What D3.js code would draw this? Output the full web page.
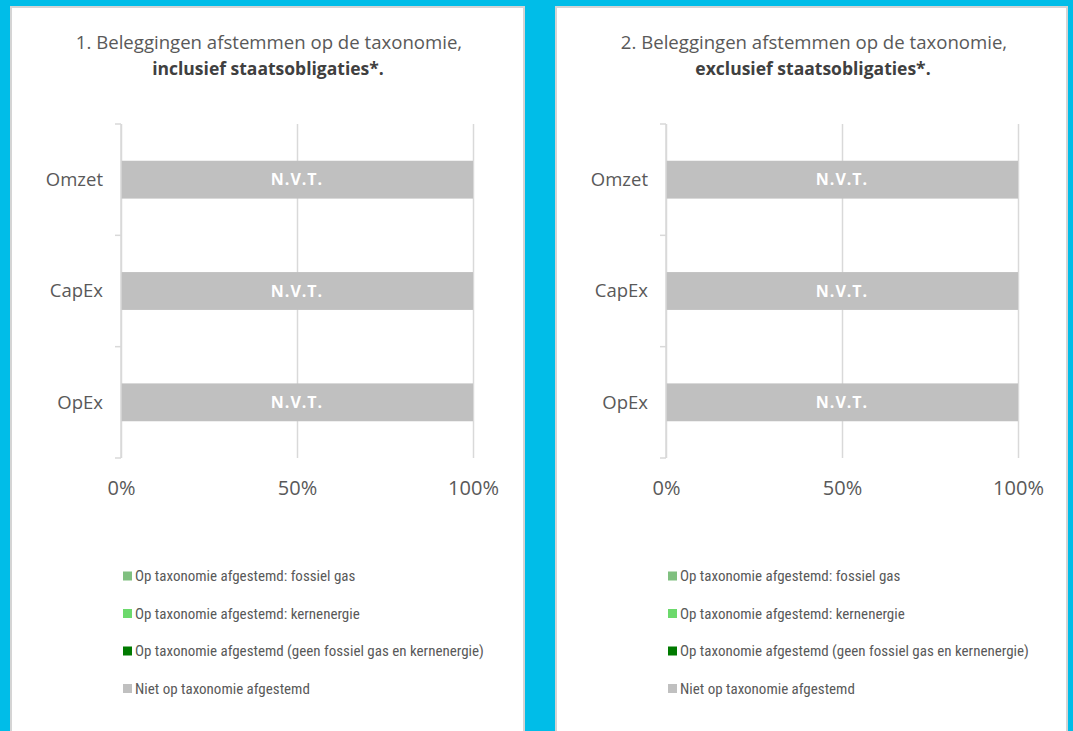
<!DOCTYPE html>
<html>
<head>
<meta charset="utf-8">
<script src="https://cdn.jsdelivr.net/npm/d3@7"></script>
<style>
  html, body { margin: 0; padding: 0; background: #00BDE8; }
  svg { display: block; }
</style>
</head>
<body>
<svg id="chart" width="1073" height="731"></svg>
<script>
// ---- data ----
const categories = ["Omzet", "CapEx", "OpEx"];
const fossielGas = [0, 0, 0];
const kernenergie = [0, 0, 0];
const afgestemd = [0, 0, 0];
const nietAfgestemd = [100, 100, 100];
const barLabels = ["N.V.T.", "N.V.T.", "N.V.T."];
const xTicks = [0, 50, 100];
const seriesNames = [
  "Op taxonomie afgestemd: fossiel gas",
  "Op taxonomie afgestemd: kernenergie",
  "Op taxonomie afgestemd (geen fossiel gas en kernenergie)",
  "Niet op taxonomie afgestemd"
];
const seriesColors = ["#80c080", "#6cd96c", "#007a00", "#c0c0c0"];
const panelTitles = [
  ["1. Beleggingen afstemmen op de taxonomie,", "inclusief staatsobligaties*."],
  ["2. Beleggingen afstemmen op de taxonomie,", "exclusief staatsobligaties*."]
];

const keys = ["fossiel", "kern", "afg", "niet"];
const table = categories.map((c, i) => ({
  cat: c, fossiel: fossielGas[i], kern: kernenergie[i], afg: afgestemd[i], niet: nietAfgestemd[i], label: barLabels[i]
}));
const stacked = d3.stack().keys(keys)(table);

const svg = d3.select("#chart");
const textColor = "#595959";
const titleFont = "'Open Sans', Lato, sans-serif";
const legendFont = "'Liberation Sans Narrow', 'Roboto Condensed', 'DejaVu Sans Condensed', sans-serif";

const panels = [{x: 10, w: 515}, {x: 555, w: 513}];

panels.forEach((p, pi) => {
  const g = svg.append("g").attr("transform", `translate(${p.x},0)`);
  g.append("rect").attr("x", 1).attr("y", 7).attr("width", p.w - 2).attr("height", 731)
    .attr("fill", "#ffffff").attr("stroke", "#d4d4d4").attr("stroke-width", 2);

  // title
  const t = g.append("text").attr("text-anchor", "middle").attr("fill", textColor)
    .attr("font-family", titleFont).attr("font-size", 18.6);
  t.append("tspan").attr("x", 259).attr("y", 49).text(panelTitles[pi][0]);
  t.append("tspan").attr("x", 258).attr("y", 75).attr("font-weight", "bold").attr("font-size", 17.5)
    .attr("fill", "#404040").text(panelTitles[pi][1]);

  const left = 111, right = 463, top = 124, bottom = 458;
  const x = d3.scaleLinear().domain([0, 100]).range([left, right]);
  const y = d3.scaleBand().domain(categories).range([top, bottom]).paddingInner(0.66).paddingOuter(0.33);

  // gridlines + x labels
  const xAxis = d3.axisBottom(x).tickValues(xTicks).tickFormat(d => d + "%").tickSize(-(bottom - top)).tickPadding(23);
  const xg = g.append("g").attr("transform", `translate(0,${bottom})`).call(xAxis);
  xg.select(".domain").remove();
  xg.selectAll(".tick line").attr("stroke", "#d9d9d9").attr("stroke-width", 1.5);
  xg.selectAll(".tick text").attr("fill", textColor).attr("font-family", titleFont).attr("font-size", 20);

  // bars
  stacked.forEach((s, si) => {
    g.append("g").selectAll("rect").data(s).join("rect")
      .attr("x", d => x(d[0]))
      .attr("width", d => x(d[1]) - x(d[0]))
      .attr("y", d => y(d.data.cat))
      .attr("height", y.bandwidth())
      .attr("fill", seriesColors[si]);
  });

  // N.V.T. labels
  g.append("g").selectAll("text").data(table).join("text")
    .attr("x", x(50)).attr("y", d => y(d.cat) + y.bandwidth() / 2)
    .attr("dy", "0.35em").attr("text-anchor", "middle")
    .attr("fill", "#ffffff").attr("font-weight", "bold")
    .attr("font-family", titleFont).attr("font-size", 16).attr("letter-spacing", 1)
    .text(d => d.label);

  // y axis line + ticks at band boundaries
  const step = y.step();
  const boundaries = d3.range(categories.length + 1).map(i => top + i * step);
  g.append("line").attr("x1", left).attr("x2", left).attr("y1", top).attr("y2", bottom)
    .attr("stroke", "#d9d9d9").attr("stroke-width", 1.5);
  g.append("g").selectAll("line").data(boundaries).join("line")
    .attr("x1", left - 6).attr("x2", left).attr("y1", d => d).attr("y2", d => d)
    .attr("stroke", "#d9d9d9").attr("stroke-width", 1.5);

  // category labels
  g.append("g").selectAll("text").data(categories).join("text")
    .attr("x", left - 18).attr("y", d => y(d) + y.bandwidth() / 2)
    .attr("dy", "0.35em").attr("text-anchor", "end")
    .attr("fill", textColor).attr("font-family", titleFont).attr("font-size", 18.5)
    .text(d => d);

  // legend
  const lg = g.append("g").attr("transform", "translate(113,576)");
  const items = lg.selectAll("g").data(seriesNames).join("g")
    .attr("transform", (d, i) => `translate(0,${i * 37.5})`);
  items.append("rect").attr("x", 0).attr("y", -4.5).attr("width", 9).attr("height", 9)
    .attr("fill", (d, i) => seriesColors[i]);
  items.append("text").attr("x", 12).attr("y", 0).attr("dy", "0.35em")
    .attr("fill", textColor).attr("font-family", legendFont).attr("font-size", 15)
    .text(d => d);
});
</script>
</body>
</html>
